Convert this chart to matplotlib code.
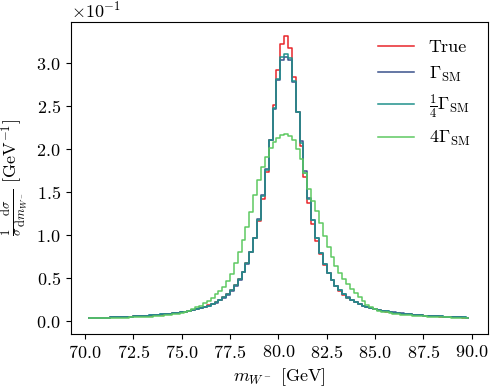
import numpy as np
import matplotlib
matplotlib.use("Agg")
import matplotlib.pyplot as plt

plt.rcParams['font.family'] = 'serif'
plt.rcParams['font.serif'] = ['cmr10']
plt.rcParams['mathtext.fontset'] = 'cm'
plt.rcParams['axes.formatter.use_mathtext'] = True
plt.rcParams['axes.unicode_minus'] = False

# bin centres (GeV)
mass = np.round(np.arange(70.2, 89.81, 0.2), 2)

# values in units of 1e-1 GeV^-1
true_vals = [
    0.033, 0.034, 0.035, 0.036, 0.038, 0.039, 0.041, 0.042, 0.044, 0.046,
    0.048, 0.050, 0.053, 0.055, 0.058, 0.061, 0.064, 0.067, 0.071, 0.075,
    0.079, 0.084, 0.089, 0.095, 0.102, 0.109, 0.118, 0.128, 0.139, 0.151,
    0.165, 0.181, 0.200, 0.222, 0.248, 0.279, 0.316, 0.362, 0.418, 0.487,
    0.570, 0.672, 0.800, 0.960, 1.165, 1.420, 1.730, 2.100, 2.510, 2.920,
    3.220, 3.310, 3.170, 2.840, 2.430, 2.030, 1.670, 1.370, 1.130, 0.935,
    0.780, 0.655, 0.555, 0.475, 0.408, 0.353, 0.308, 0.271, 0.241, 0.216,
    0.195, 0.177, 0.162, 0.148, 0.137, 0.127, 0.118, 0.110, 0.103, 0.097,
    0.091, 0.086, 0.081, 0.077, 0.073, 0.069, 0.066, 0.063, 0.060, 0.057,
    0.055, 0.052, 0.050, 0.048, 0.046, 0.044, 0.042, 0.040, 0.039]

sm_vals = [
    0.034, 0.035, 0.036, 0.037, 0.039, 0.040, 0.042, 0.043, 0.045, 0.047,
    0.049, 0.051, 0.054, 0.056, 0.059, 0.062, 0.065, 0.068, 0.072, 0.076,
    0.080, 0.085, 0.090, 0.095, 0.101, 0.107, 0.115, 0.124, 0.135, 0.147,
    0.160, 0.176, 0.194, 0.215, 0.241, 0.272, 0.308, 0.354, 0.410, 0.480,
    0.565, 0.668, 0.800, 0.965, 1.190, 1.460, 1.770, 2.100, 2.460, 2.800,
    3.040, 3.070, 3.030, 2.780, 2.430, 2.090, 1.740, 1.430, 1.180, 0.965,
    0.795, 0.665, 0.562, 0.480, 0.412, 0.357, 0.311, 0.274, 0.244, 0.219,
    0.198, 0.180, 0.164, 0.150, 0.139, 0.129, 0.120, 0.112, 0.105, 0.099,
    0.093, 0.088, 0.083, 0.078, 0.074, 0.070, 0.067, 0.064, 0.061, 0.058,
    0.056, 0.053, 0.051, 0.049, 0.047, 0.045, 0.043, 0.041, 0.040]

quarter_vals = [
    0.034, 0.035, 0.036, 0.037, 0.038, 0.040, 0.041, 0.043, 0.045, 0.047,
    0.049, 0.051, 0.053, 0.056, 0.059, 0.062, 0.065, 0.068, 0.072, 0.076,
    0.080, 0.084, 0.089, 0.095, 0.101, 0.108, 0.116, 0.125, 0.136, 0.148,
    0.161, 0.177, 0.196, 0.217, 0.243, 0.274, 0.311, 0.357, 0.413, 0.483,
    0.567, 0.670, 0.800, 0.962, 1.180, 1.450, 1.760, 2.110, 2.480, 2.820,
    3.070, 3.110, 3.060, 2.790, 2.430, 2.070, 1.720, 1.420, 1.170, 0.960,
    0.790, 0.662, 0.560, 0.478, 0.410, 0.355, 0.310, 0.273, 0.243, 0.218,
    0.197, 0.179, 0.163, 0.150, 0.138, 0.128, 0.119, 0.111, 0.104, 0.098,
    0.092, 0.087, 0.082, 0.078, 0.074, 0.070, 0.066, 0.063, 0.060, 0.058,
    0.055, 0.053, 0.051, 0.049, 0.047, 0.045, 0.043, 0.041, 0.040]

four_vals = [
    0.030, 0.031, 0.032, 0.033, 0.034, 0.035, 0.036, 0.037, 0.038, 0.039,
    0.040, 0.041, 0.043, 0.045, 0.047, 0.049, 0.052, 0.055, 0.058, 0.062,
    0.066, 0.071, 0.077, 0.085, 0.096, 0.108, 0.122, 0.138, 0.158, 0.180,
    0.205, 0.235, 0.270, 0.310, 0.345, 0.400, 0.460, 0.550, 0.680, 0.800,
    0.940, 1.090, 1.270, 1.460, 1.640, 1.790, 1.910, 2.010, 2.080, 2.130,
    2.160, 2.170, 2.150, 2.100, 2.000, 1.880, 1.720, 1.530, 1.400, 1.280,
    1.140, 0.990, 0.860, 0.740, 0.640, 0.560, 0.490, 0.430, 0.370, 0.320,
    0.280, 0.230, 0.190, 0.160, 0.138, 0.122, 0.110, 0.100, 0.092, 0.085,
    0.079, 0.074, 0.070, 0.066, 0.062, 0.059, 0.056, 0.053, 0.051, 0.049,
    0.047, 0.045, 0.043, 0.041, 0.039, 0.037, 0.035, 0.034, 0.033]

labels = ['True', r'$\Gamma_{\rm SM}$', r'$\frac{1}{4}\Gamma_{\rm SM}$', r'$4\Gamma_{\rm SM}$']
colors = ['#e8262b', '#3b528b', '#21918c', '#5ec962']
series = [true_vals, sm_vals, quarter_vals, four_vals]

fig = plt.figure(figsize=(4.97, 3.90), dpi=100)
ax = fig.add_axes([0.142, 0.1436, 0.840, 0.8006])

for vals, c, lab in zip(series, colors, labels):
    ax.step(mass, np.array(vals) * 1e-1, where='mid', color=c, lw=1.1, label=lab)

ax.set_xlim(69.26, 90.84)
ax.set_ylim(-0.0151, 0.348)
ax.set_xticks(np.arange(70, 90.1, 2.5))
ax.set_yticks(np.arange(0, 0.301, 0.05))
ax.ticklabel_format(axis='y', style='sci', scilimits=(-1, -1), useMathText=True)
ax.tick_params(labelsize=13)
ax.yaxis.get_offset_text().set_fontsize(13)

ax.set_xlabel(r'$m_{W^-}$ [GeV]', fontsize=13, labelpad=4)
ax.set_ylabel(r'$\frac{1}{\sigma}\frac{\mathrm{d}\sigma}{\mathrm{d}m_{W^-}}$ [GeV$^{-1}$]', fontsize=13, labelpad=4)

ax.legend(loc='upper right', frameon=False, fontsize=13, handlelength=2.0,
          borderaxespad=0.6, labelspacing=0.5)

fig.savefig('out.png', dpi=100)
